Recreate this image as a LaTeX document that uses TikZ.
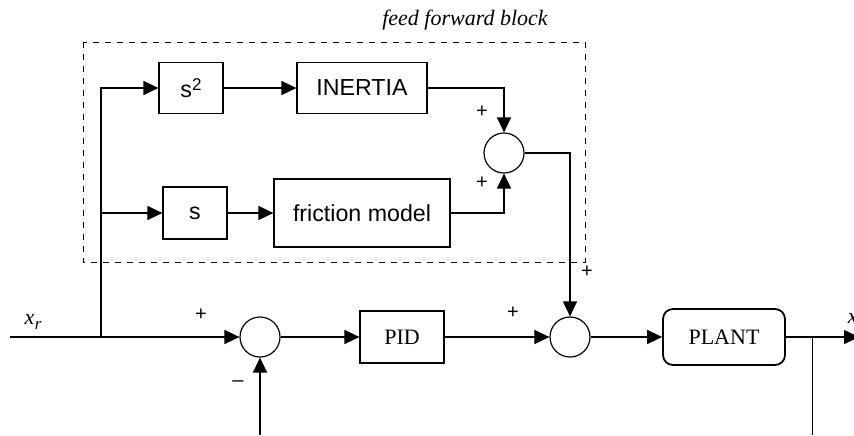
\documentclass[tikz,border=0pt]{standalone}
\usepackage{fontspec}
\setmainfont{Liberation Serif}
\newfontfamily\blocksf{Liberation Sans}
\usetikzlibrary{arrows.meta,positioning}

\tikzset{
  block/.style={draw,line width=0.6pt,minimum height=25.5pt,inner sep=0pt,font=\fontsize{11.6}{13}\blocksf},
  mainblock/.style={draw,line width=0.6pt,minimum height=26pt,inner sep=0pt},
  sumnode/.style={draw,circle,line width=0.6pt,minimum size=20pt,inner sep=0pt},
  sign/.style={font=\fontsize{10}{12}\blocksf,inner sep=0pt},
}

\begin{document}
\begin{tikzpicture}[x=0.5pt,y=-0.5pt,>={Triangle[length=7.5pt,width=7pt]},
    line width=0.75pt,font=\fontsize{11}{13}\selectfont]
  \useasboundingbox (0,0) rectangle (854,435);

  % feed forward part
  \draw[line width=0.5pt,dash pattern=on 3pt off 3pt] (83,42) rectangle (585,262);
  \node[font=\fontsize{11}{13}\selectfont\itshape] (fflabel) at (465,20) {feed forward block};

  \node[block,minimum width=32pt] (sq) at (191,88) {s\raisebox{0.6ex}{\fontsize{8.5}{10}\selectfont 2}};
  \node[block,minimum width=65pt] (inertia) at (362,88) {INERTIA};
  \node[block,minimum width=32pt,minimum height=26pt] (sone) at (195,213) {s};
  \node[block,minimum width=88pt,minimum height=34pt] (fric) at (362,213) {friction model};
  \node[sumnode] (sumf) at (504,153) {};

  % main loop
  \node[sumnode] (sumb) at (260,337) {};
  \node[mainblock,minimum width=42pt] (pid) at (402,337) {PID};
  \node[sumnode] (sumc) at (570,337) {};
  \node[mainblock,minimum width=61pt,minimum height=28pt,rounded corners=5pt,line width=0.9pt] (plant) at (724,337) {PLANT};

  \coordinate (xin) at (10,337);
  \coordinate (tap) at (101,337);
  \coordinate (tapb) at (101,213);
  \coordinate (xout) at (859,337);
  \coordinate (ytap) at (812,337);
  \coordinate (ybot) at (812,435);
  \coordinate (fbin) at (260,435);

  \draw[->] (xin) -- (sumb);
  \draw[->] (tap) |- (sq);
  \draw[->] (tapb) -- (sone);
  \draw[->] (sq) -- (inertia);
  \draw[->] (sone) -- (fric);
  \draw[->] (inertia) -| (sumf);
  \draw[->] (fric) -| (sumf);
  \draw[->] (sumf) -| (sumc);
  \draw[->] (sumb) -- (pid);
  \draw[->] (pid) -- (sumc);
  \draw[->] (sumc) -- (plant);
  \draw[->] (plant) -- (xout);
  \draw[line width=0.5pt] (ytap) -- (ybot);
  \draw[->] (fbin) -- (sumb);

  % signs and signals
  \node[sign] (p1) at (482,112) {+};
  \node[sign] (p2) at (482,183) {+};
  \node[sign] (p3) at (587,272) {+};
  \node[sign] (p4) at (201,315) {+};
  \node[sign] (m1) at (238,384) {\textendash};
  \node[sign] (p5) at (513,313) {+};
  \node (xr) at (33,322) {\itshape x\kern0.3pt\raisebox{-0.45ex}{\fontsize{8.5}{10}\selectfont r}};
  \node[anchor=west,inner sep=0pt] (xo) at (847,318) {\itshape x};
\end{tikzpicture}
\end{document}
